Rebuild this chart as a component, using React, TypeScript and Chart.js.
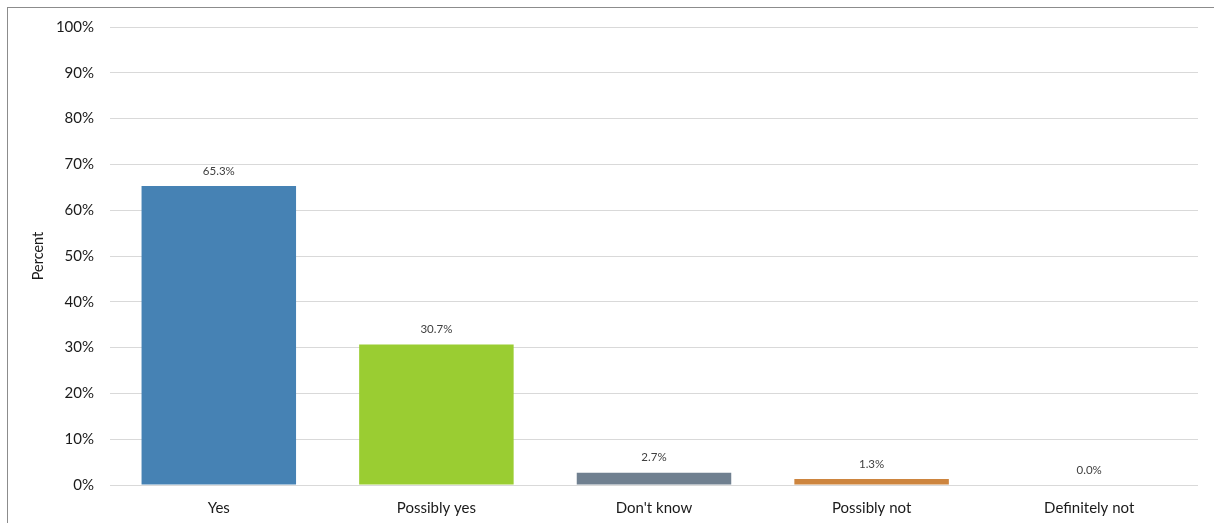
import React, { useEffect, useRef } from "react";
import { Chart, registerables } from "chart.js";

Chart.register(...registerables);

const categories = ["Yes", "Possibly yes", "Don't know", "Possibly not", "Definitely not"];
const values = [65.3, 30.7, 2.7, 1.3, 0.0];
const barColors = ["#4682B4", "#9ACD32", "#708090", "#CD853F", "#B0B0B0"];
const yTicks = [0, 10, 20, 30, 40, 50, 60, 70, 80, 90, 100];

const FONT = "Lato, 'Open Sans', 'DejaVu Sans', sans-serif";

const dataLabelPlugin = {
  id: "dataLabels",
  afterDatasetsDraw(chart: any) {
    const ctx = chart.ctx;
    const meta = chart.getDatasetMeta(0);
    ctx.save();
    ctx.font = `11.5px ${FONT}`;
    ctx.fillStyle = "#404040";
    ctx.textAlign = "center";
    ctx.textBaseline = "middle";
    meta.data.forEach((bar: any, i: number) => {
      ctx.fillText(values[i].toFixed(1) + "%", bar.x, bar.y - 15);
    });
    ctx.restore();
  },
};

export default function App() {
  const ref = useRef<HTMLCanvasElement>(null);
  useEffect(() => {
    if (!ref.current) return;
    const chart = new Chart(ref.current, {
      type: "bar",
      data: {
        labels: categories,
        datasets: [
          {
            data: values,
            backgroundColor: barColors,
            categoryPercentage: 0.71,
            barPercentage: 1,
          },
        ],
      },
      options: {
        animation: false,
        responsive: false,
        maintainAspectRatio: false,
        layout: { padding: { left: 30, top: 27, right: 16, bottom: 0 } },
        plugins: { legend: { display: false }, tooltip: { enabled: false } },
        scales: {
          x: {
            grid: { display: false },
            border: { display: false },
            ticks: { color: "#1a1a1a", font: { family: FONT, size: 15 }, padding: 6 },
            afterFit: (s: any) => {
              s.height = 38;
            },
          },
          y: {
            min: 0,
            max: 100,
            afterBuildTicks: (s: any) => {
              s.ticks = yTicks.map((v) => ({ value: v }));
            },
            grid: { color: "#d9d9d9", lineWidth: 1, drawTicks: false },
            border: { display: false },
            ticks: {
              color: "#1a1a1a",
              font: { family: FONT, size: 15 },
              padding: 16,
              callback: (v: any) => v + "%",
            },
            title: {
              display: true,
              text: "Percent",
              color: "#1a1a1a",
              font: { family: FONT, size: 14.5 },
              padding: 0,
            },
            afterFit: (s: any) => {
              s.width = 80;
            },
          },
        },
      },
      plugins: [dataLabelPlugin],
    });
    return () => chart.destroy();
  }, []);

  return (
    <div style={{ position: "fixed", left: 0, top: 0, width: 1214, height: 523, background: "#fff" }}>
      <div
        style={{
          position: "absolute",
          left: 7,
          top: 7,
          width: 1240,
          height: 560,
          border: "1px solid #8c8c8c",
          boxSizing: "border-box",
        }}
      />
      <canvas ref={ref} width={1214} height={523} style={{ position: "absolute", left: 0, top: 0 }} />
    </div>
  );
}
